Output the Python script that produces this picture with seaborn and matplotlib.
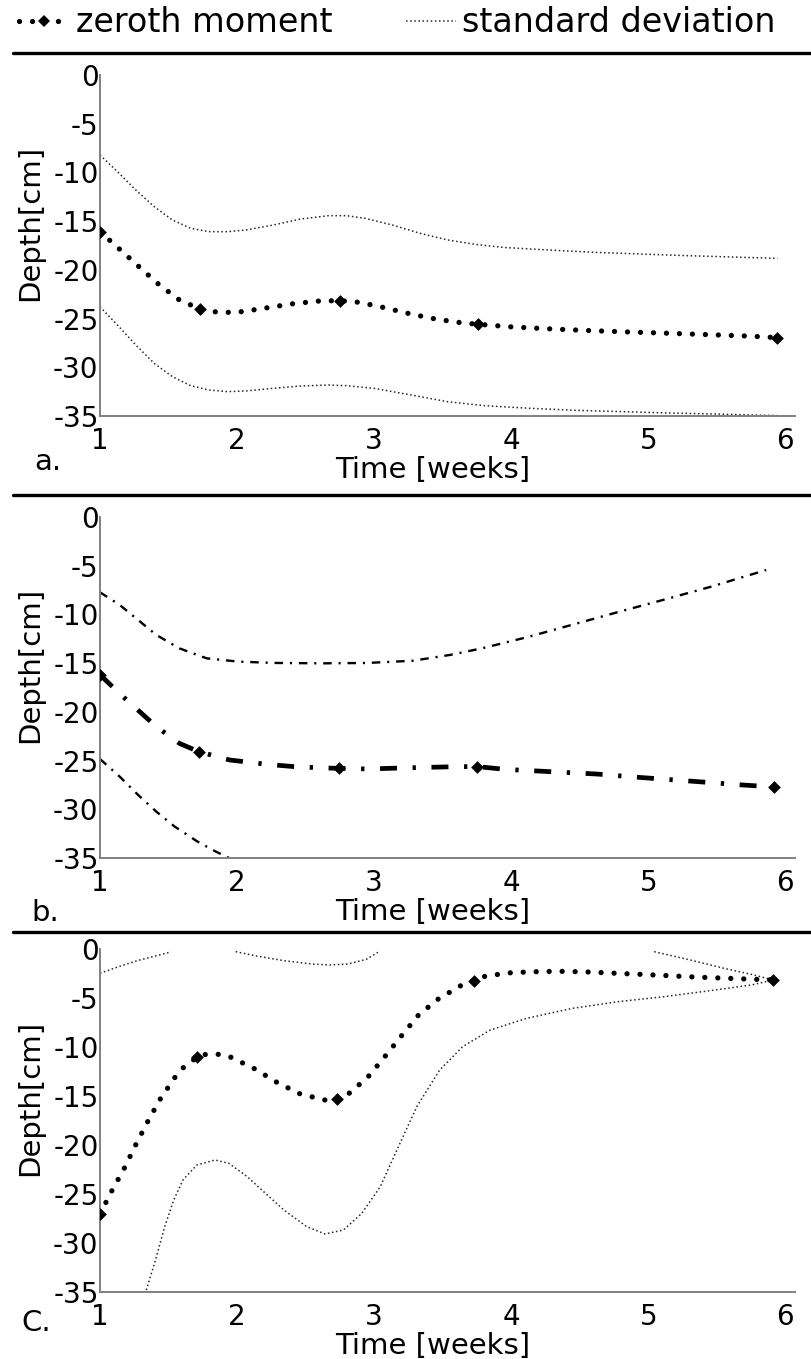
import numpy as np
import pandas as pd
import matplotlib
matplotlib.use("Agg")
import matplotlib.pyplot as plt
from matplotlib.lines import Line2D
import seaborn as sns

nan = np.nan

# ---------------- data ----------------
xticks = [1, 2, 3, 4, 5, 6]
yticks = [0, -5, -10, -15, -20, -25, -30, -35]
panel_labels = ["a.", "b.", "C."]
legend_labels = ["zeroth moment", "standard deviation"]
xlabel = "Time [weeks]"
ylabel = "Depth[cm]"

# panel a
a_mk_x = [1.0, 1.73, 2.75, 3.76, 5.94]
a_mk_y = [-16.08, -24.02, -23.16, -25.59, -26.96]
a_mean_x = [1.0, 1.144, 1.284, 1.428, 1.579, 1.729, 1.846, 1.94, 2.037, 2.224, 2.411, 2.599,
            2.749, 2.89, 3.074, 3.258, 3.445, 3.632, 3.763, 4.007, 4.298, 4.582, 4.866,
            5.154, 5.435, 5.719, 5.943]
a_mean_y = [-16.08, -17.89, -19.67, -21.48, -23.09, -24.02, -24.32, -24.36, -24.29, -23.88,
            -23.47, -23.20, -23.16, -23.33, -23.88, -24.50, -25.04, -25.42, -25.59, -25.86,
            -26.07, -26.24, -26.38, -26.51, -26.65, -26.79, -26.96]
a_up_x = [1.0, 1.127, 1.261, 1.395, 1.528, 1.662, 1.796, 1.93, 2.064, 2.264, 2.465, 2.666,
          2.799, 2.933, 3.134, 3.334, 3.535, 3.736, 3.936, 4.271, 4.605, 4.94, 5.274, 5.609, 5.943]
a_up_y = [-8.21, -9.92, -11.80, -13.51, -14.88, -15.74, -16.08, -16.08, -15.91, -15.40, -14.78,
          -14.44, -14.44, -14.71, -15.40, -16.25, -16.93, -17.38, -17.69, -17.96, -18.20,
          -18.37, -18.54, -18.68, -18.82]
a_lo_x = [1.0, 1.127, 1.261, 1.395, 1.528, 1.662, 1.796, 1.93, 2.064, 2.264, 2.465, 2.666,
          2.799, 2.999, 3.268, 3.535, 3.803, 4.137, 4.472, 4.806, 5.141, 5.475, 5.943]
a_lo_y = [-23.78, -25.66, -27.71, -29.59, -30.96, -31.89, -32.33, -32.50, -32.43, -32.16,
          -31.92, -31.82, -31.89, -32.16, -32.84, -33.53, -33.94, -34.21, -34.42, -34.55,
          -34.69, -34.79, -34.96]

# panel b
b_mk_x = [1.0, 1.72, 2.74, 3.75, 5.92]
b_mk_y = [-16.2, -24.08, -25.80, -25.62, -27.71]
b_mean_x = [1.0, 1.16, 1.411, 1.579, 1.719, 1.946, 2.214, 2.415, 2.582, 2.739, 2.95, 3.284,
            3.619, 3.752, 3.953, 4.288, 4.622, 4.957, 5.358, 5.692, 5.92]
b_mean_y = [-16.2, -18.34, -21.52, -23.23, -24.08, -24.94, -25.38, -25.62, -25.73, -25.80,
            -25.86, -25.73, -25.62, -25.62, -25.90, -26.14, -26.38, -26.75, -27.16, -27.51, -27.71]
b_up_x = [1.0, 1.144, 1.278, 1.411, 1.579, 1.779, 2.013, 2.281, 2.615, 2.95, 3.284, 3.552,
          3.786, 4.12, 4.455, 4.789, 5.124, 5.458, 5.86]
b_up_y = [-7.73, -9.03, -10.57, -12.11, -13.48, -14.51, -14.85, -14.98, -15.02, -14.98, -14.75,
          -14.16, -13.48, -12.32, -11.02, -9.72, -8.45, -7.15, -5.44]
b_lo_x = [1.0, 1.144, 1.278, 1.411, 1.545, 1.712, 1.846, 1.946]
b_lo_y = [-24.84, -26.65, -28.53, -30.24, -31.78, -33.32, -34.35, -35.03]

# panel c
c_mk_x = [1.0, 1.71, 2.73, 3.73, 5.91]
c_mk_y = [-27.04, -10.99, -15.31, -3.23, -3.16]
c_mean_x = [1.0, 1.087, 1.177, 1.261, 1.344, 1.438, 1.545, 1.605, 1.712, 1.773, 1.866, 1.956,
            2.13, 2.291, 2.462, 2.642, 2.732, 2.826, 2.963, 3.087, 3.204, 3.324, 3.468, 3.632,
            3.732, 3.813, 4.003, 4.191, 4.381, 4.572, 4.766, 4.953, 5.147, 5.334, 5.525, 5.712, 5.91]
c_mean_y = [-27.04, -24.66, -22.38, -19.97, -17.72, -15.34, -13.13, -12.14, -10.99, -10.75,
            -10.75, -11.05, -12.24, -13.61, -14.80, -15.41, -15.31, -14.66, -12.93, -10.82,
            -8.78, -6.73, -5.10, -3.74, -3.23, -2.76, -2.41, -2.31, -2.28, -2.35, -2.48, -2.59,
            -2.72, -2.86, -2.96, -3.06, -3.16]
c_up_x = [1.0, 1.137, 1.271, 1.405, 1.505, 1.55, 1.99, 2.14, 2.341, 2.542, 2.676, 2.809, 2.943,
          3.027, 3.06, 5.043, 5.284, 5.552, 5.753, 5.91]
c_up_y = [-2.48, -1.80, -1.19, -0.71, -0.34, nan, -0.27, -0.71, -1.19, -1.53, -1.63, -1.53,
          -1.05, -0.34, nan, -0.27, -1.05, -1.97, -2.59, -3.16]
c_lo_x = [1.338, 1.405, 1.472, 1.538, 1.605, 1.706, 1.839, 1.94, 2.074, 2.207, 2.341, 2.508,
          2.642, 2.776, 2.91, 3.045, 3.177, 3.311, 3.478, 3.645, 3.846, 4.114, 4.448, 4.783,
          5.117, 5.452, 5.753, 5.91]
c_lo_y = [-34.80, -31.73, -28.33, -25.61, -23.57, -22.04, -21.53, -21.87, -23.23, -24.93,
          -26.63, -28.33, -29.08, -28.67, -26.97, -24.25, -20.17, -16.09, -12.35, -9.97, -8.27,
          -7.07, -6.05, -5.37, -4.86, -4.25, -3.67, -3.16]

# ---------------- styles ----------------
sns.set_theme(style="white")
plt.rcParams["font.family"] = ["DejaVu Sans"]
plt.rcParams["text.color"] = "black"
plt.rcParams["axes.labelcolor"] = "black"

dot_mean = dict(color="black", linewidth=3.8, linestyle=(0, (0.01, 2.45)),
                dash_capstyle="round")
dot_std = dict(color="0.15", linewidth=1.1, linestyle=(0, (1, 1.7)))
dd_mean = dict(color="black", linewidth=3.4, linestyle=(0, (3.6, 3.3, 0.7, 3.3)))
dd_std = dict(color="black", linewidth=1.7, linestyle=(0, (3.6, 2.9, 0.9, 2.9)))

TICK_FS = 20
LABEL_FS = 21

fig = plt.figure(figsize=(8.11, 13.59), dpi=100)

W, H = 811.0, 1359.0
left_px, right_px = 100, 795
panels = [(75, 416), (517, 858), (949, 1292)]


def seg_frame(xs, ys):
    df = pd.DataFrame({"x": xs, "y": ys})
    df["seg"] = df["y"].isna().cumsum()
    return df.dropna()


def draw(ax, mean_x, mean_y, up_x, up_y, lo_x, lo_y, mk_x, mk_y, mstyle, sstyle):
    for xs, ys in [(up_x, up_y), (lo_x, lo_y)]:
        df = seg_frame(xs, ys)
        sns.lineplot(data=df, x="x", y="y", units="seg", estimator=None, ax=ax,
                     legend=False, **sstyle)
    sns.lineplot(x=mean_x, y=mean_y, ax=ax, estimator=None, legend=False, **mstyle)
    sns.scatterplot(x=mk_x, y=mk_y, ax=ax, marker="D", s=42, color="black",
                    linewidth=0, zorder=4, legend=False)


data = [
    (a_mean_x, a_mean_y, a_up_x, a_up_y, a_lo_x, a_lo_y, a_mk_x, a_mk_y, dot_mean, dot_std),
    (b_mean_x, b_mean_y, b_up_x, b_up_y, b_lo_x, b_lo_y, b_mk_x, b_mk_y, dd_mean, dd_std),
    (c_mean_x, c_mean_y, c_up_x, c_up_y, c_lo_x, c_lo_y, c_mk_x, c_mk_y, dot_mean, dot_std),
]

label_pos = [(48, 462), (45, 913), (36, 1323)]

for i, ((top, bot), d) in enumerate(zip(panels, data)):
    ax = fig.add_axes([left_px / W, 1 - bot / H, (right_px - left_px) / W, (bot - top) / H])
    draw(ax, *d)
    ax.set_xlim(1, 6.07)
    ax.set_ylim(-35, 0)
    ax.set_xticks(xticks)
    ax.set_xticklabels([str(t) for t in xticks])
    ax.set_yticks(yticks)
    ax.set_yticklabels([str(t) for t in yticks])
    for s in ["top", "right"]:
        ax.spines[s].set_visible(False)
    for s in ["left", "bottom"]:
        ax.spines[s].set_color("#808080")
        ax.spines[s].set_linewidth(1.4)
    ax.tick_params(axis="both", length=0, labelsize=TICK_FS, colors="black")
    ax.tick_params(axis="x", pad=8)
    ax.tick_params(axis="y", pad=1)
    ax.set_xlabel(xlabel, fontsize=LABEL_FS, va="center")
    ax.set_ylabel(ylabel, fontsize=LABEL_FS, va="center")
    ax.xaxis.set_label_coords(0.478, -0.158)
    ax.yaxis.set_label_coords(-0.1, 0.565)
    ax.set_facecolor("white")
    lx, ly = label_pos[i]
    fig.text(lx / W, 1 - ly / H, panel_labels[i], fontsize=LABEL_FS, ha="center",
             va="center", color="black")

# separators
for ypx in [53, 495, 932]:
    fig.add_artist(Line2D([13 / W, 1.0], [1 - ypx / H, 1 - ypx / H], color="black",
                          linewidth=2.4, transform=fig.transFigure))

# legend
h1 = Line2D([], [], marker="D", markersize=6, markerfacecolor="black",
            markeredgewidth=0, **dot_mean)
h2 = Line2D([], [], **dot_std)
fig.legend([h1, h2], legend_labels, loc="center", bbox_to_anchor=(0.49, 1 - 23 / H),
           ncol=2, frameon=False, fontsize=24, handlelength=1.5, handletextpad=0.2,
           columnspacing=2.2, numpoints=1, labelcolor="black")

fig.savefig("out.png", dpi=100, facecolor="white")
